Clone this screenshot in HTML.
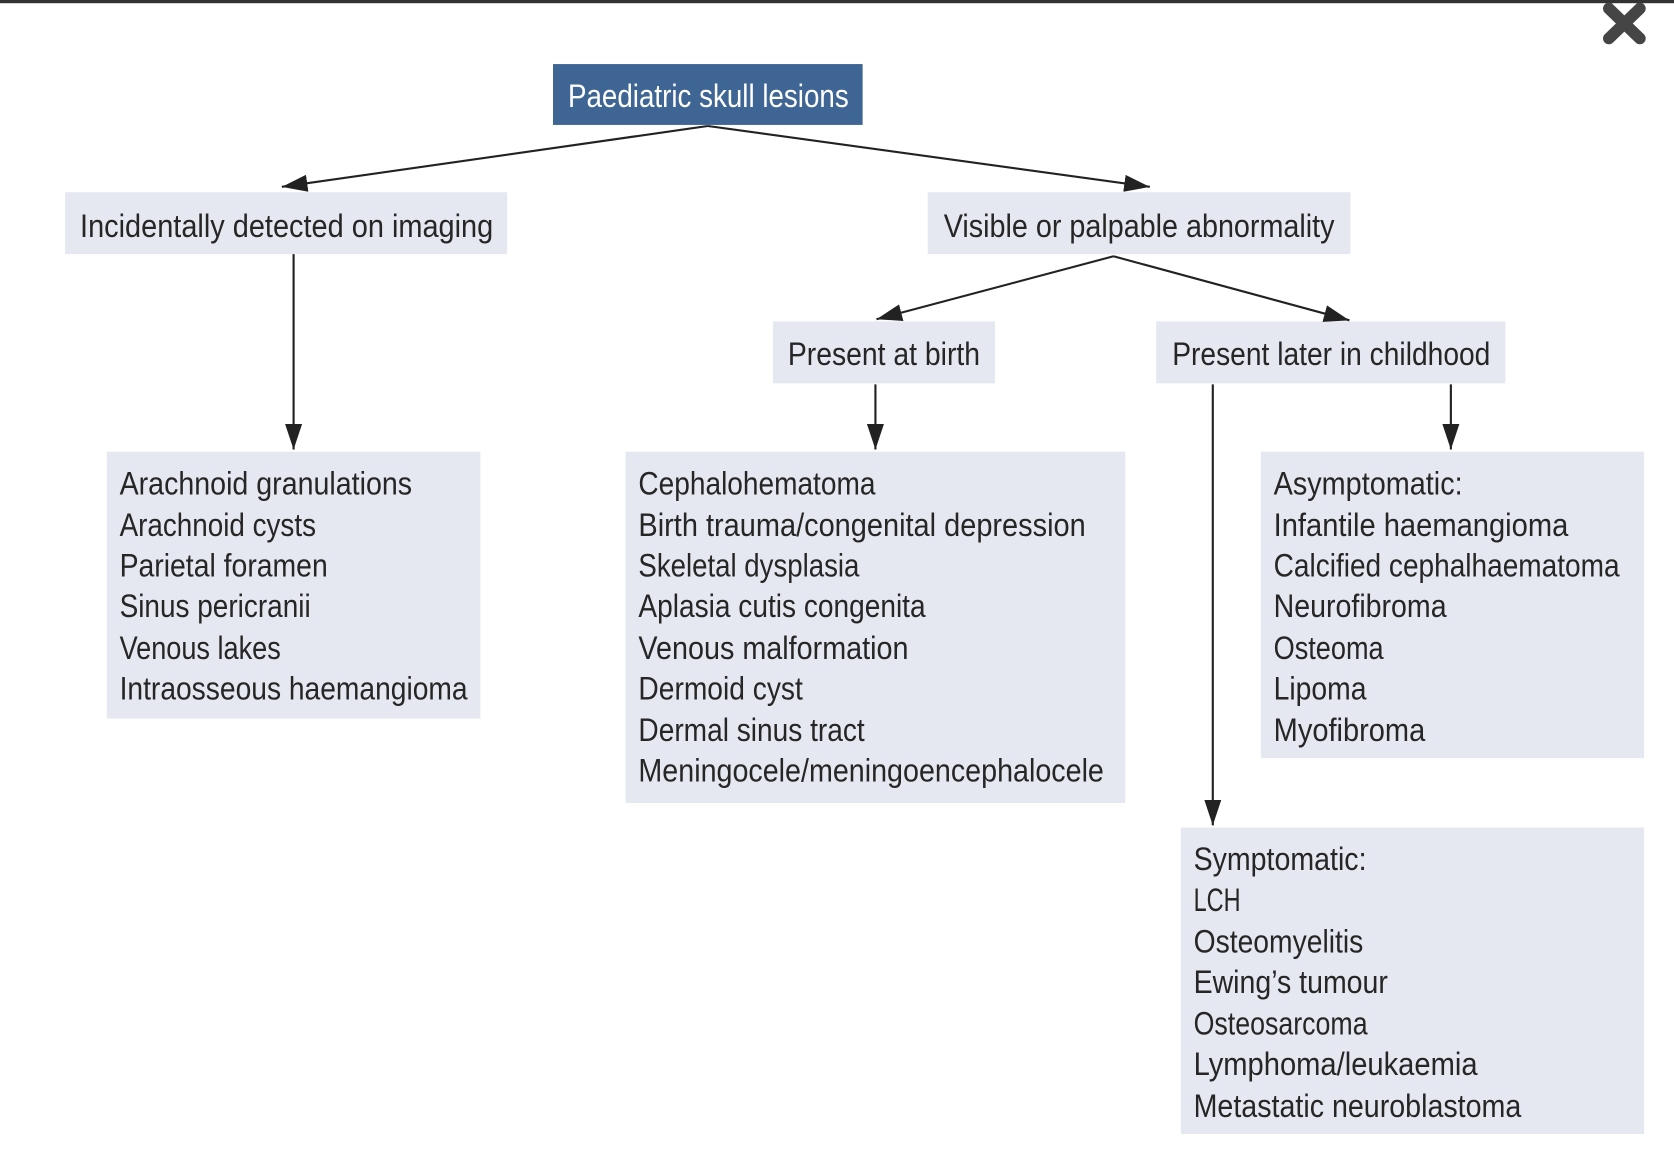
<!DOCTYPE html>
<html><head><meta charset="utf-8"><style>
html,body{margin:0;padding:0;background:#fff;}
svg{display:block;}
text{font-family:"Liberation Sans Narrow","Liberation Sans",sans-serif;font-size:30px;fill:#262626;}
</style></head><body>
<svg width="1674" height="1150" viewBox="0 0 1568 1077" preserveAspectRatio="none" xmlns="http://www.w3.org/2000/svg">
<defs><marker id="a" markerWidth="10" markerHeight="8" refX="9" refY="4" orient="auto" markerUnits="userSpaceOnUse" viewBox="0 0 10 8"><path d="M0,0 L10,4 L0,8 z" fill="#222"/></marker>
<marker id="b" viewBox="0 0 24 16" refX="24" refY="8" markerWidth="24" markerHeight="16" orient="auto" markerUnits="userSpaceOnUse"><path d="M0,0 L24,8 L0,16 z" fill="#222"/></marker></defs>
<rect x="0" y="0" width="1568" height="3" fill="#333"/>
<path d="M1507,8 L1536,36 M1536,8 L1507,36" stroke="#454545" stroke-width="11" stroke-linecap="round"/>
<rect x="518" y="60" width="290" height="57" fill="#3e6593"/>
<text x="532" y="100" textLength="263" lengthAdjust="spacingAndGlyphs" style="fill:#fff">Paediatric skull lesions</text>
<g fill="#e6e8f1">
<rect x="61" y="180" width="414" height="58"/>
<rect x="869" y="180" width="396" height="58"/>
<rect x="724" y="301" width="208" height="58"/>
<rect x="1083" y="301" width="327" height="58"/>
<rect x="100" y="423" width="350" height="250"/>
<rect x="586" y="423" width="468" height="329"/>
<rect x="1181" y="423" width="359" height="287"/>
<rect x="1106" y="775" width="434" height="287"/>
</g>
<g stroke="#222" stroke-width="2" fill="none" marker-end="url(#b)">
<line x1="663" y1="118" x2="264" y2="175"/>
<line x1="663" y1="118" x2="1077" y2="175"/>
<line x1="275" y1="238" x2="275" y2="421"/>
<line x1="1043" y1="240" x2="821" y2="299"/>
<line x1="1043" y1="240" x2="1264" y2="300"/>
<line x1="820" y1="360" x2="820" y2="421"/>
<line x1="1359" y1="360" x2="1359" y2="421"/>
<line x1="1136" y1="360" x2="1136" y2="773"/>
</g>
<text x="75" y="222" textLength="387" lengthAdjust="spacingAndGlyphs">Incidentally detected on imaging</text>
<text x="884" y="222" textLength="366" lengthAdjust="spacingAndGlyphs">Visible or palpable abnormality</text>
<text x="738" y="342" textLength="180" lengthAdjust="spacingAndGlyphs">Present at birth</text>
<text x="1098" y="342" textLength="298" lengthAdjust="spacingAndGlyphs">Present later in childhood</text>
<g>
<text x="112" y="463" textLength="274" lengthAdjust="spacingAndGlyphs">Arachnoid granulations</text>
<text x="112" y="502" textLength="184" lengthAdjust="spacingAndGlyphs">Arachnoid cysts</text>
<text x="112" y="540" textLength="195" lengthAdjust="spacingAndGlyphs">Parietal foramen</text>
<text x="112" y="578" textLength="179" lengthAdjust="spacingAndGlyphs">Sinus pericranii</text>
<text x="112" y="617" textLength="151" lengthAdjust="spacingAndGlyphs">Venous lakes</text>
<text x="112" y="655" textLength="326" lengthAdjust="spacingAndGlyphs">Intraosseous haemangioma</text>
</g>
<g>
<text x="598" y="463" textLength="222" lengthAdjust="spacingAndGlyphs">Cephalohematoma</text>
<text x="598" y="502" textLength="419" lengthAdjust="spacingAndGlyphs">Birth trauma/congenital depression</text>
<text x="598" y="540" textLength="207" lengthAdjust="spacingAndGlyphs">Skeletal dysplasia</text>
<text x="598" y="578" textLength="269" lengthAdjust="spacingAndGlyphs">Aplasia cutis congenita</text>
<text x="598" y="617" textLength="253" lengthAdjust="spacingAndGlyphs">Venous malformation</text>
<text x="598" y="655" textLength="154" lengthAdjust="spacingAndGlyphs">Dermoid cyst</text>
<text x="598" y="694" textLength="212" lengthAdjust="spacingAndGlyphs">Dermal sinus tract</text>
<text x="598" y="732" textLength="436" lengthAdjust="spacingAndGlyphs">Meningocele/meningoencephalocele</text>
</g>
<g>
<text x="1193" y="463" textLength="177" lengthAdjust="spacingAndGlyphs">Asymptomatic:</text>
<text x="1193" y="502" textLength="276" lengthAdjust="spacingAndGlyphs">Infantile haemangioma</text>
<text x="1193" y="540" textLength="324" lengthAdjust="spacingAndGlyphs">Calcified cephalhaematoma</text>
<text x="1193" y="578" textLength="162" lengthAdjust="spacingAndGlyphs">Neurofibroma</text>
<text x="1193" y="617" textLength="103" lengthAdjust="spacingAndGlyphs">Osteoma</text>
<text x="1193" y="655" textLength="87" lengthAdjust="spacingAndGlyphs">Lipoma</text>
<text x="1193" y="694" textLength="142" lengthAdjust="spacingAndGlyphs">Myofibroma</text>
</g>
<g>
<text x="1118" y="815" textLength="162" lengthAdjust="spacingAndGlyphs">Symptomatic:</text>
<text x="1118" y="853" textLength="44" lengthAdjust="spacingAndGlyphs">LCH</text>
<text x="1118" y="892" textLength="159" lengthAdjust="spacingAndGlyphs">Osteomyelitis</text>
<text x="1118" y="930" textLength="182" lengthAdjust="spacingAndGlyphs">Ewing’s tumour</text>
<text x="1118" y="969" textLength="163" lengthAdjust="spacingAndGlyphs">Osteosarcoma</text>
<text x="1118" y="1007" textLength="266" lengthAdjust="spacingAndGlyphs">Lymphoma/leukaemia</text>
<text x="1118" y="1046" textLength="307" lengthAdjust="spacingAndGlyphs">Metastatic neuroblastoma</text>
</g>
</svg>
</body></html>
